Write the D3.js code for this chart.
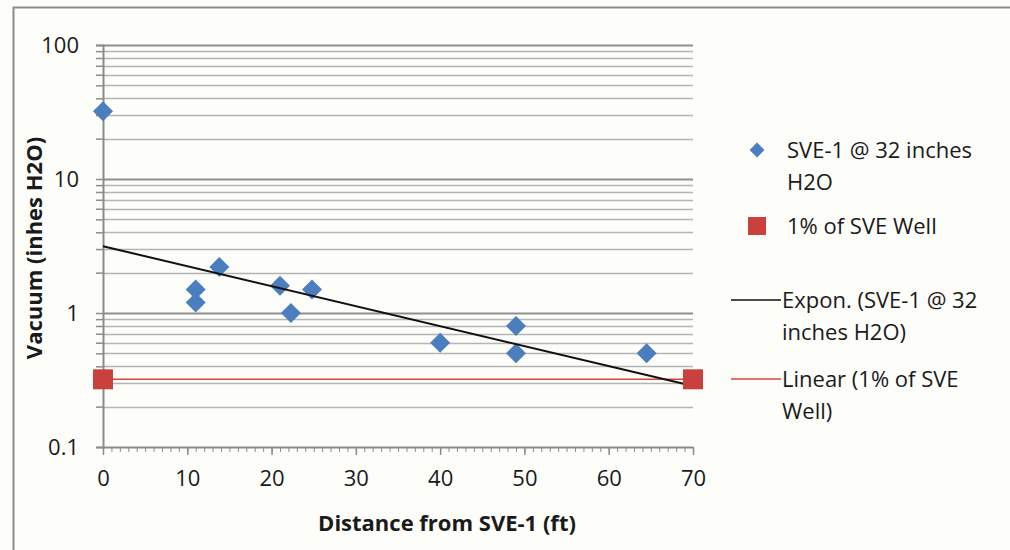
<!DOCTYPE html>
<html>
<head>
<meta charset="utf-8">
<script src="https://cdn.jsdelivr.net/npm/d3@7"></script>
<style>
  body { margin: 0; background: #fdfdfa; }
  svg { font-family: "Open Sans", Lato, sans-serif; }
</style>
</head>
<body>
<svg id="chart"></svg>
<script>
// datos
const distances = [0, 11, 11, 13.8, 21, 22.3, 24.8, 40, 49, 49, 64.5];
const vacuum = [32, 1.5, 1.2, 2.2, 1.6, 1.0, 1.5, 0.6, 0.8, 0.5, 0.5];
const wellX = [0, 70];
const wellY = [0.32, 0.32];
// línea de tendencia exponencial (extremos)
const trendX = [0, 70];
const trendY = [3.15, 0.285];
const xTicks = [0, 10, 20, 30, 40, 50, 60, 70];
const yTicks = [0.1, 1, 10, 100];
const legendLabels = [
  ["SVE-1 @ 32 inches", "H2O"],
  ["1% of SVE Well"],
  ["Expon. (SVE-1 @ 32", "inches H2O)"],
  ["Linear (1% of SVE", "Well)"]
];

const width = 1010;
const height = 550;

const svg = d3.select("#chart")
  .attr("width", width)
  .attr("height", height);

// marco exterior
svg.append("rect")
  .attr("x", 13.5).attr("y", 7.5)
  .attr("width", 1100).attr("height", 600)
  .attr("fill", "#fdfdfa")
  .attr("stroke", "#8c8c8c")
  .attr("stroke-width", 2);

const xScale = d3.scaleLinear().domain([0, 70]).range([103, 693]);
const yScale = d3.scaleLog().domain([0.1, 100]).range([447, 45]);

// líneas de cuadrícula
const gridVals = [];
for (let e = -1; e < 2; e++) {
  for (let m = 1; m <= 9; m++) gridVals.push(m * Math.pow(10, e));
}
gridVals.push(100);

svg.append("g")
  .selectAll("line")
  .data(gridVals.filter(v => v > 0.1))
  .join("line")
  .attr("x1", xScale(0)).attr("x2", xScale(70))
  .attr("y1", d => Math.round(yScale(d)) + 0.5)
  .attr("y2", d => Math.round(yScale(d)) + 0.5)
  .attr("stroke", d => yTicks.includes(d) ? "#8f8f8f" : "#b5b5b5")
  .attr("stroke-width", d => yTicks.includes(d) ? 2 : 1.5);

// eje y
const yAxis = d3.axisLeft(yScale)
  .tickValues(gridVals)
  .tickSize(7)
  .tickFormat(d => yTicks.includes(d) ? d3.format("~g")(d) : "");

const gy = svg.append("g")
  .attr("transform", `translate(${xScale(0)},0)`)
  .call(yAxis);
gy.select(".domain").attr("stroke", "#8c8c8c").attr("stroke-width", 2);
gy.selectAll(".tick line").attr("stroke", "#8c8c8c").attr("stroke-width", 1.5);
gy.selectAll(".tick text")
  .attr("x", -24)
  .attr("dy", "0.36em")
  .attr("font-size", 22)
  .attr("font-family", "'Open Sans', sans-serif")
  .attr("fill", "#1a1a1a");

// eje x con marcas menores
const gxMinor = svg.append("g")
  .attr("transform", `translate(0,${yScale(0.1)})`)
  .call(d3.axisBottom(xScale).tickValues(d3.range(0, 71, 1)).tickSize(5).tickFormat(""));
gxMinor.select(".domain").remove();
gxMinor.selectAll(".tick line").attr("stroke", "#8c8c8c").attr("stroke-width", 1);

const gx = svg.append("g")
  .attr("transform", `translate(0,${yScale(0.1)})`)
  .call(d3.axisBottom(xScale).tickValues(xTicks).tickSize(8).tickSizeOuter(0));
gx.select(".domain").attr("stroke", "#8c8c8c").attr("stroke-width", 2);
gx.selectAll(".tick line").attr("stroke", "#8c8c8c").attr("stroke-width", 1.5);
gx.selectAll(".tick text")
  .attr("y", 23)
  .attr("font-size", 22)
  .attr("font-family", "'Open Sans', sans-serif")
  .attr("fill", "#1a1a1a");

// línea lineal (1% del pozo)
svg.append("line")
  .attr("x1", xScale(wellX[0])).attr("x2", xScale(wellX[1]))
  .attr("y1", yScale(wellY[0])).attr("y2", yScale(wellY[1]))
  .attr("stroke", "#d9463f")
  .attr("stroke-width", 1.5);

// puntos SVE-1
svg.selectAll(".dot")
  .data(distances.map((d, i) => ({ x: d, y: vacuum[i] })))
  .join("path")
  .attr("class", "dot")
  .attr("d", d3.symbol(d3.symbolSquare, 200))
  .attr("transform", d => `translate(${xScale(d.x)},${yScale(d.y)}) rotate(45)`)
  .attr("fill", "#4a7ebf");

// tendencia exponencial
svg.append("path")
  .datum(trendX.map((d, i) => [d, trendY[i]]))
  .attr("d", d3.line().x(d => xScale(d[0])).y(d => yScale(d[1])))
  .attr("fill", "none")
  .attr("stroke", "#111")
  .attr("stroke-width", 2);

// cuadrados rojos
svg.selectAll(".well")
  .data(wellX.map((d, i) => ({ x: d, y: wellY[i] })))
  .join("rect")
  .attr("class", "well")
  .attr("x", d => xScale(d.x) - 10)
  .attr("y", d => yScale(d.y) - 10)
  .attr("width", 20).attr("height", 20)
  .attr("fill", "#c9403d");

// títulos de ejes
svg.append("text")
  .attr("x", 447).attr("y", 531)
  .attr("text-anchor", "middle")
  .attr("font-size", 22)
  .attr("font-weight", "bold")
  .attr("fill", "#1a1a1a")
  .text("Distance from SVE-1 (ft)");

svg.append("text")
  .attr("transform", "translate(42,248) rotate(-90)")
  .attr("text-anchor", "middle")
  .attr("font-size", 22)
  .attr("font-weight", "bold")
  .attr("fill", "#1a1a1a")
  .text("Vacuum (inhes H2O)");

// leyenda
const legendY = [150, 226, 300, 379];
const leg = svg.append("g");
legendLabels.forEach((lines, i) => {
  const y = legendY[i];
  if (i === 0) {
    leg.append("path")
      .attr("d", d3.symbol(d3.symbolSquare, 110))
      .attr("transform", `translate(757,${y}) rotate(45)`)
      .attr("fill", "#4a7ebf");
  } else if (i === 1) {
    leg.append("rect")
      .attr("x", 748).attr("y", y - 9)
      .attr("width", 18).attr("height", 18)
      .attr("fill", "#c9403d");
  } else {
    leg.append("line")
      .attr("x1", 731).attr("x2", 781)
      .attr("y1", y).attr("y2", y)
      .attr("stroke", i === 2 ? "#111" : "#d9463f")
      .attr("stroke-width", 1.5);
  }
  const tx = i < 2 ? 787 : 782;
  const t = leg.append("text")
    .attr("x", tx)
    .attr("y", y + 8)
    .attr("font-size", 22)
    .attr("fill", "#1a1a1a");
  lines.forEach((s, j) => {
    t.append("tspan").attr("x", tx).attr("dy", j === 0 ? 0 : 32).text(s);
  });
});
</script>
</body>
</html>
